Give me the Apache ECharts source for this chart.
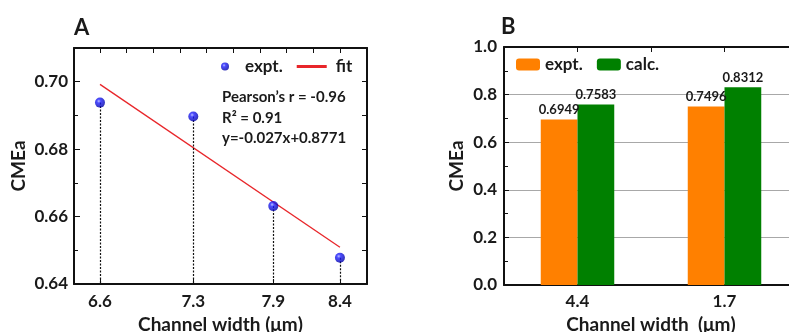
<!DOCTYPE html>
<html><head><meta charset="utf-8">
<script src="https://cdn.jsdelivr.net/npm/echarts@6/dist/echarts.min.js"></script>
<style>html,body{margin:0;padding:0;background:#fff}#c{width:789px;height:332px}</style>
</head><body><div id="c"></div>
<script>
// Panel A data
const widthA = [6.6, 7.3, 7.9, 8.4];
const cmeaA = [0.6938, 0.6897, 0.6631, 0.6478];
const fitX = [6.6, 8.4];
const fitY = [0.6992, 0.6509];
const xLabelsA = [6.6, 7.3, 7.9, 8.4];
const topTicksA = [6.6, 6.8, 7.0, 7.2, 7.4, 7.6, 7.8, 8.0, 8.2, 8.4];
const annotA = ['Pearson\u2019s r = -0.96', 'R\u00b2 = 0.91', 'y=-0.027x+0.8771'];
// Panel B data
const catsB = ['4.4', '1.7'];
const exptB = [0.6949, 0.7496];
const calcB = [0.7583, 0.8312];
const topTicksB = [0.5, 1, 1.5];

const FONT = 'Lato';
const TXT = '#1a1a1a';
const chart = echarts.init(document.getElementById('c'), null, {renderer: 'canvas'});

const sphere = {
  type: 'radial', x: 0.38, y: 0.35, r: 0.65,
  colorStops: [{offset: 0, color: '#a8aeff'}, {offset: 0.3, color: '#1f1fff'}, {offset: 1, color: '#0000a8'}]
};

const dropLines = widthA.map((x, i) => [{coord: [x, cmeaA[i]]}, {coord: [x, 0.64]}]);

const option = {
  animation: false,
  textStyle: {fontFamily: FONT},
  grid: [
    {left: 74, top: 48, width: 293, height: 236, outerBoundsMode: 'none', containLabel: false},
    {left: 504, top: 47, right: -9, bottom: 47, outerBoundsMode: 'none', containLabel: false}
  ],
  legend: [
    {
      left: 221, top: 58, padding: 0, itemWidth: 30, itemHeight: 8, itemGap: 14,
      textStyle: {fontFamily: FONT, fontWeight: 'bold', fontSize: 17, color: TXT},
      data: [
        {name: 'expt.'},
        {name: 'fit', icon: 'path://M0,0h30v3h-30z', itemStyle: {color: '#e8262a'},
          textStyle: {padding: [0, 0, 0, 4]}}
      ]
    },
    {
      left: 516, top: 56, padding: 0, itemWidth: 24, itemHeight: 12, itemGap: 10,
      textStyle: {fontFamily: FONT, fontWeight: 'bold', fontSize: 17, color: TXT},
      data: ['expt. ', 'calc.']
    }
  ],
  xAxis: [
    {
      type: 'value', gridIndex: 0, min: 6.405, max: 8.603, position: 'bottom',
      name: 'Channel width (\u03bcm)', nameLocation: 'middle', nameGap: 29,
      nameTextStyle: {fontFamily: FONT, fontWeight: 'bold', fontSize: 19, color: TXT},
      axisLine: {lineStyle: {color: '#111', width: 2}},
      axisTick: {inside: true, length: 5, lineStyle: {color: '#111'}, customValues: xLabelsA},
      axisLabel: {customValues: xLabelsA, fontFamily: FONT, fontWeight: 'bold', fontSize: 17, color: TXT, margin: 9,
        formatter: v => v.toFixed(1)},
      splitLine: {show: false}
    },
    {
      type: 'value', gridIndex: 0, min: 6.405, max: 8.603, position: 'top',
      axisLine: {lineStyle: {color: '#111', width: 2}},
      axisTick: {inside: true, length: 5, lineStyle: {color: '#111'}, customValues: topTicksA},
      axisLabel: {show: false}, splitLine: {show: false}
    },
    {
      type: 'category', gridIndex: 1, data: catsB, position: 'bottom',
      name: 'Channel width  (\u03bcm)', nameLocation: 'middle', nameGap: 28,
      nameTextStyle: {fontFamily: FONT, fontWeight: 'bold', fontSize: 19, color: TXT},
      axisLine: {lineStyle: {color: '#111', width: 2}},
      axisTick: {inside: true, length: 5, lineStyle: {color: '#111'}},
      axisLabel: {fontFamily: FONT, fontWeight: 'bold', fontSize: 17, color: TXT, margin: 8},
      splitLine: {show: false}
    },
    {
      type: 'value', gridIndex: 1, min: 0, max: 2, position: 'top',
      axisLine: {lineStyle: {color: '#111', width: 2}},
      axisTick: {inside: true, length: 5, lineStyle: {color: '#111'}, customValues: topTicksB},
      axisLabel: {show: false}, splitLine: {show: false}
    }
  ],
  yAxis: [
    {
      type: 'value', gridIndex: 0, min: 0.64, max: 0.71, interval: 0.02, position: 'left',
      name: 'CMEa', nameLocation: 'middle', nameGap: 46,
      nameTextStyle: {fontFamily: FONT, fontWeight: 'bold', fontSize: 19, color: TXT},
      axisLine: {show: true, lineStyle: {color: '#111', width: 2}},
      axisTick: {inside: true, length: 6, lineStyle: {color: '#111'}},
      minorTick: {show: true, splitNumber: 2, length: 4, lineStyle: {color: '#111'}},
      axisLabel: {fontFamily: FONT, fontWeight: 'bold', fontSize: 17, color: TXT, margin: 6,
        showMaxLabel: false, formatter: v => v.toFixed(2)},
      splitLine: {show: false}
    },
    {
      type: 'value', gridIndex: 0, min: 0.64, max: 0.71, interval: 0.01, position: 'right',
      axisLine: {show: true, lineStyle: {color: '#111', width: 2}},
      axisTick: {inside: true, length: 5, lineStyle: {color: '#111'}},
      axisLabel: {show: false}, splitLine: {show: false}
    },
    {
      type: 'value', gridIndex: 1, min: 0, max: 1, interval: 0.2, position: 'left',
      name: 'CMEa', nameLocation: 'middle', nameGap: 38,
      nameTextStyle: {fontFamily: FONT, fontWeight: 'bold', fontSize: 19, color: TXT},
      axisLine: {show: true, lineStyle: {color: '#111', width: 2}},
      axisTick: {inside: true, length: 5, lineStyle: {color: '#111'}},
      minorTick: {show: true, splitNumber: 2, length: 4, lineStyle: {color: '#111'}},
      axisLabel: {fontFamily: FONT, fontWeight: 'bold', fontSize: 17, color: TXT, margin: 7,
        formatter: v => v.toFixed(1)},
      splitLine: {show: true, lineStyle: {color: '#a8a8a8', width: 1}}
    }
  ],
  series: [
    {
      name: 'fit', type: 'line', xAxisIndex: 0, yAxisIndex: 0,
      data: fitX.map((x, i) => [x, fitY[i]]), symbol: 'none', showSymbol: false,
      lineStyle: {color: '#e8262a', width: 1.3}, itemStyle: {color: '#e8262a'}, z: 3
    },
    {
      name: 'expt.', type: 'scatter', xAxisIndex: 0, yAxisIndex: 0,
      data: widthA.map((x, i) => [x, cmeaA[i]]), symbol: 'circle', symbolSize: 10,
      itemStyle: {color: sphere}, z: 5,
      markLine: {
        silent: true, symbol: 'none', label: {show: false},
        lineStyle: {color: '#111', width: 1.2, type: [2, 1.5]},
        data: dropLines
      }
    },
    {
      name: 'expt. ', type: 'bar', xAxisIndex: 2, yAxisIndex: 2, data: exptB,
      barWidth: '25%', barGap: '0%', itemStyle: {color: '#ff8000'},
      label: {show: true, position: 'top', distance: 3, fontFamily: FONT, fontWeight: 'bold', fontSize: 13, color: TXT,
        formatter: p => p.value.toFixed(4)}
    },
    {
      name: 'calc.', type: 'bar', xAxisIndex: 2, yAxisIndex: 2, data: calcB,
      barWidth: '25%', barGap: '0%', itemStyle: {color: '#008000'},
      label: {show: true, position: 'top', distance: 3, fontFamily: FONT, fontWeight: 'bold', fontSize: 13, color: TXT,
        formatter: p => p.value.toFixed(4)}
    }
  ],
  graphic: [
    {type: 'text', x: 74, y: 28, style: {text: 'A', font: 'bold 22px ' + FONT, fill: TXT, verticalAlign: 'middle'}},
    {type: 'text', x: 501, y: 27, style: {text: 'B', font: 'bold 22px ' + FONT, fill: TXT, verticalAlign: 'middle'}},
    ...annotA.map((t, i) => ({type: 'text', x: 222, y: 97 + i * 20.7,
      style: {text: t, font: 'bold 15px ' + FONT, fill: TXT, verticalAlign: 'middle'}}))
  ]
};
chart.setOption(option);
</script></body></html>
